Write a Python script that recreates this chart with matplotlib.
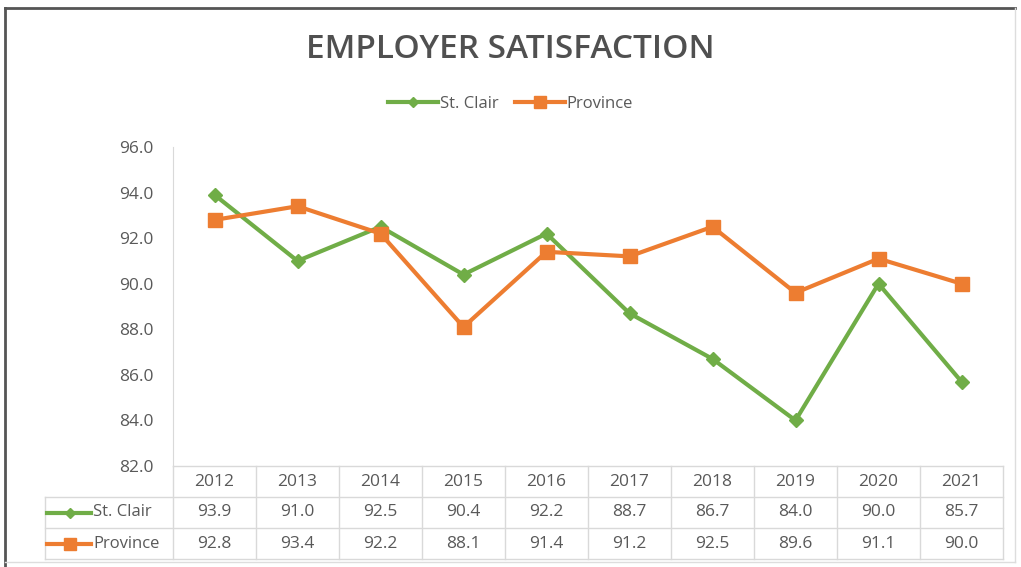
import matplotlib.pyplot as plt
import matplotlib.transforms as mtransforms
from matplotlib.lines import Line2D

years = ["2012", "2013", "2014", "2015", "2016", "2017", "2018", "2019", "2020", "2021"]
st_clair = [93.9, 91.0, 92.5, 90.4, 92.2, 88.7, 86.7, 84.0, 90.0, 85.7]
province = [92.8, 93.4, 92.2, 88.1, 91.4, 91.2, 92.5, 89.6, 91.1, 90.0]
y_ticks = [82.0, 84.0, 86.0, 88.0, 90.0, 92.0, 94.0, 96.0]

GREEN = "#70AD47"
ORANGE = "#ED7D31"
TXT = "#595959"
GRID = "#D9D9D9"

plt.rcParams["font.family"] = ["Open Sans", "DejaVu Sans"]

W, H = 1021, 567
fig = plt.figure(figsize=(W / 100, H / 100), dpi=100)

# outer frame like the screenshot
fig.add_artist(Line2D([5 / W, 1015 / W], [1 - 8 / H, 1 - 8 / H], color="#555555", lw=2))
fig.add_artist(Line2D([5 / W, 5 / W], [1 - 8 / H, 0], color="#555555", lw=2))
fig.add_artist(Line2D([1015 / W, 1015 / W], [1 - 8 / H, 1 - 562 / H], color="#DDDDDD", lw=1))
fig.add_artist(Line2D([5 / W, 1015 / W], [1 - 562 / H, 1 - 562 / H], color="#DDDDDD", lw=1))

left, right, top, bottom = 173, 1003, 147, 466
ax = fig.add_axes([left / W, 1 - bottom / H, (right - left) / W, (bottom - top) / H])

x = list(range(len(years)))
ax.plot(x, st_clair, color=GREEN, lw=3, marker="D", ms=7, label="St. Clair")
ax.plot(x, province, color=ORANGE, lw=3, marker="s", ms=10, label="Province")

ax.set_xlim(-0.5, len(years) - 0.5)
ax.set_ylim(82, 96)
ax.set_yticks(y_ticks)
ax.set_yticklabels([f"{v:.1f}" for v in y_ticks], color=TXT, fontsize=12.5)
ax.tick_params(axis="y", length=0, pad=14)
ax.set_xticks([])
for s in ["top", "right", "bottom"]:
    ax.spines[s].set_visible(False)
ax.spines["left"].set_color(GRID)

fig.text(0.5, 1 - 49 / H, "EMPLOYER SATISFACTION", ha="center", va="center",
         fontsize=24, fontweight="semibold", color="#505050")

leg = fig.legend(loc="center", bbox_to_anchor=(0.5, 1 - 104 / H), ncol=2, frameon=False,
                 fontsize=12, handlelength=3, columnspacing=1.0, handletextpad=0.1, markerscale=0.8)
for t in leg.get_texts():
    t.set_color(TXT)

# data table under the plot
trans = mtransforms.blended_transform_factory(ax.transData, ax.transAxes)
row_h = 31 / (bottom - top)
n = len(years)
x_lab = -0.5 - (left - 45) / ((right - left) / n)
kw = dict(transform=trans, clip_on=False, color=GRID, lw=1)

# horizontal lines
ax.plot([-0.5, n - 0.5], [0, 0], **kw)
for k in (1, 2, 3):
    ax.plot([x_lab, n - 0.5], [-k * row_h, -k * row_h], **kw)
# vertical lines
for i in range(n + 1):
    ax.plot([i - 0.5, i - 0.5], [0, -3 * row_h], **kw)
ax.plot([x_lab, x_lab], [-row_h, -3 * row_h], **kw)

fs = 12.5
for i, yr in enumerate(years):
    ax.text(i, -0.5 * row_h, yr, transform=trans, ha="center", va="center", fontsize=fs, color=TXT)
    ax.text(i, -1.5 * row_h, f"{st_clair[i]:.1f}", transform=trans, ha="center", va="center",
            fontsize=fs, color=TXT)
    ax.text(i, -2.5 * row_h, f"{province[i]:.1f}", transform=trans, ha="center", va="center",
            fontsize=fs, color=TXT)

for r, (name, col, mk, ms) in enumerate([("St. Clair", GREEN, "D", 5), ("Province", ORANGE, "s", 8)]):
    yy = -(1.5 + r) * row_h
    ax.plot([x_lab + 0.03, x_lab + 0.56], [yy, yy], transform=trans, clip_on=False, color=col, lw=3)
    ax.plot([x_lab + 0.3], [yy], transform=trans, clip_on=False, color=col, marker=mk, ms=ms)
    ax.text(x_lab + 0.58, yy, name, transform=trans, ha="left", va="center", fontsize=fs - 0.5,
            color=TXT)

fig.savefig("out.png", dpi=100)
